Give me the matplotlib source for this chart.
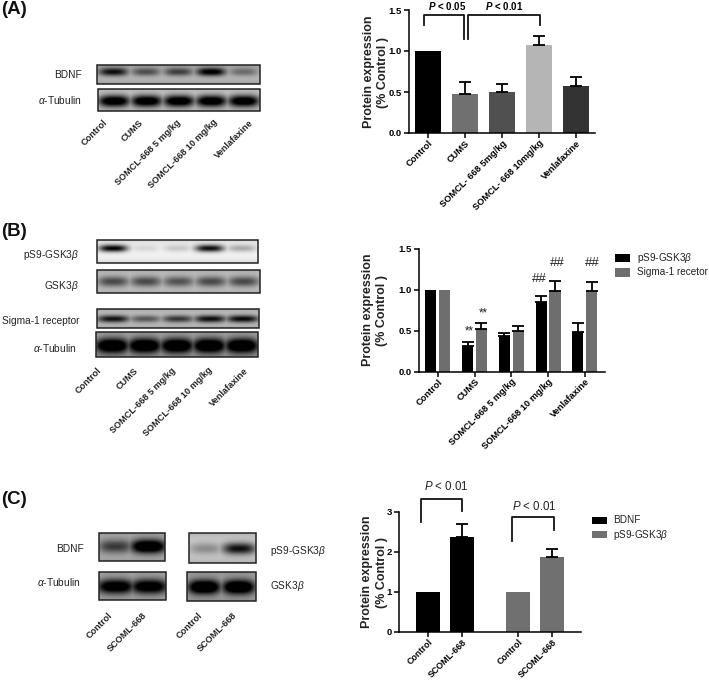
import numpy as np
import matplotlib

matplotlib.use("Agg")
import matplotlib.pyplot as plt
from matplotlib.patches import Rectangle

plt.rcParams["font.family"] = "Liberation Sans"
plt.rcParams["mathtext.fontset"] = "custom"
plt.rcParams["mathtext.it"] = "Liberation Sans:italic"
plt.rcParams["mathtext.rm"] = "Liberation Sans"
plt.rcParams["mathtext.bf"] = "Liberation Sans:bold"
plt.rcParams["mathtext.bfit"] = "Liberation Sans:italic:bold"

W, H = 709, 680

# panel A
a_labels = ["Control", "CUMS", "SOMCL- 668 5mg/kg", "SOMCL- 668 10mg/kg", "Venlafaxine"]
a_values = [1.0, 0.47, 0.50, 1.07, 0.57]
a_errors = [0.0, 0.15, 0.10, 0.11, 0.11]
a_colors = ["#000000", "#707070", "#505050", "#b5b5b5", "#333333"]

# panel B
b_labels = ["Control", "CUMS", "SOMCL-668 5 mg/kg", "SOMCL-668 10 mg/kg", "Venlafaxine"]
b_ps9 = [1.0, 0.32, 0.44, 0.85, 0.49]
b_ps9_err = [0.0, 0.04, 0.03, 0.08, 0.10]
b_sigma = [1.0, 0.52, 0.50, 0.99, 0.99]
b_sigma_err = [0.0, 0.07, 0.06, 0.12, 0.11]

# panel C
c_labels = ["Control", "SCOML-668", "Control", "SCOML-668"]
c_bdnf = [1.0, 2.37]
c_bdnf_err = [0.0, 0.32]
c_ps9 = [1.0, 1.87]
c_ps9_err = [0.0, 0.21]

# western blot band strengths, one per lane
blot_a_bdnf = [0.68, 0.42, 0.48, 0.78, 0.30]
blot_a_tub = [1.0, 1.0, 1.0, 1.0, 1.0]
blot_b_ps9 = [0.95, 0.10, 0.16, 0.90, 0.28]
blot_b_gsk = [0.50, 0.50, 0.46, 0.50, 0.50]
blot_b_sigma = [0.70, 0.42, 0.55, 0.72, 0.74]
blot_b_tub = [1.0, 1.0, 1.0, 1.0, 1.0]
blot_c_bdnf = [0.50, 1.0]
blot_c_tub = [0.90, 0.90]
blot_c_ps9 = [0.25, 0.75]
blot_c_gsk = [1.0, 1.0]


def px_axes(left, right, top, bottom):
    return fig.add_axes([left / W, 1 - bottom / H, (right - left) / W, (bottom - top) / H])


def style_axes(ax, yticks, fmt):
    for s in ["top", "right"]:
        ax.spines[s].set_visible(False)
    for s in ["left", "bottom"]:
        ax.spines[s].set_linewidth(1.1)
    ax.set_yticks(yticks)
    ax.set_yticklabels([fmt.format(t) for t in yticks], fontsize=6.8, fontweight="bold")
    ax.tick_params(width=1.1, length=3.5, pad=1.5)
    ax.tick_params(axis="x", pad=0.5)
    ax.patch.set_alpha(0)


def up_errors(ax, x, values, errors):
    keep = [i for i in range(len(errors)) if errors[i] > 0]
    ax.errorbar(
        [x[i] for i in keep],
        [values[i] for i in keep],
        yerr=[[0] * len(keep), [errors[i] for i in keep]],
        fmt="none",
        ecolor="black",
        elinewidth=1.3,
        capsize=4.2,
        capthick=1.3,
    )


def bracket(ax, x0, x1, y0, top, y1):
    ax.plot([x0, x0, x1, x1], [y0, top, top, y1], color="#111111", lw=1.3, clip_on=False)


def blot(box, strengths, bg, y_frac, thick, lane_w=0.45):
    left, right, top, bottom = box
    nx, ny = int((right - left) * 3), int((bottom - top) * 3)
    xx, yy = np.meshgrid(np.linspace(0, 1, nx), np.linspace(0, 1, ny))
    dark = np.zeros_like(xx)
    n = len(strengths)
    for i, s in enumerate(strengths):
        cx = (i + 0.5) / n
        dx = (xx - cx) * n / lane_w
        dy = (yy - y_frac) / thick
        dark = np.maximum(dark, s * np.exp(-(np.abs(dx) ** 3)) * np.exp(-(dy**2)))
    edge = 0.10 * (np.abs(yy - 0.5) * 2) ** 3
    img = np.clip(bg - edge - dark, 0, 1)
    over.imshow(img, cmap="gray", vmin=0, vmax=1, extent=(left, right, bottom, top), aspect="auto", zorder=1)
    over.add_patch(Rectangle((left, top), right - left, bottom - top, fill=False, ec="#222222", lw=1.1, zorder=2))


fig = plt.figure(figsize=(W / 100, H / 100), dpi=100)

# full figure layer in pixel coordinates for blots and free text
over = fig.add_axes([0, 0, 1, 1])
over.axis("off")

blot((97, 260, 65, 84), blot_a_bdnf, 0.72, 0.36, 0.22)
blot((98, 260, 89, 111), blot_a_tub, 0.82, 0.55, 0.28, 0.50)
blot((97, 258, 240, 263), blot_b_ps9, 0.95, 0.36, 0.16)
blot((97, 260, 270, 293), blot_b_gsk, 0.78, 0.50, 0.24, 0.50)
blot((97, 259, 309, 328), blot_b_sigma, 0.76, 0.52, 0.20, 0.50)
blot((96, 258, 332, 357), blot_b_tub, 0.72, 0.55, 0.32, 0.54)
blot((99, 165, 533, 561), blot_c_bdnf, 0.72, 0.48, 0.26, 0.55)
blot((99, 166, 572, 600), blot_c_tub, 0.72, 0.52, 0.28, 0.58)
blot((189, 256, 533, 563), blot_c_ps9, 0.80, 0.52, 0.20, 0.50)
blot((187, 256, 572, 601), blot_c_gsk, 0.68, 0.52, 0.26, 0.48)

over.set_xlim(0, W)
over.set_ylim(H, 0)

for label, y in [("(A)", 10), ("(B)", 232), ("(C)", 500)]:
    over.text(1, y, label, fontsize=13.5, fontweight="bold", va="center", color="#111111")

# blot row names
alpha_tub = r"$\alpha$-Tubulin"
gsk = r"GSK3$\beta$"
ps9 = r"pS9-GSK3$\beta$"
row_names = [
    ("BDNF", 82, 75, "right"),
    (alpha_tub, 82, 100, "right"),
    (ps9, 79, 255, "right"),
    (gsk, 79, 286, "right"),
    ("Sigma-1 receptor", 79, 321, "right"),
    (alpha_tub, 77, 348, "right"),
    ("BDNF", 84, 549, "right"),
    (alpha_tub, 81, 582, "right"),
    (ps9, 270, 551, "left"),
    (gsk, 270, 586, "left"),
]
for name, x, y, ha in row_names:
    over.text(x, y, name, fontsize=7.3, ha=ha, va="center", color="#222222")

# lane names under blots
lane_names = [
    (b_labels, [106, 142, 179, 216, 252], 121),
    (b_labels, [100, 137, 174, 211, 247], 369),
    (c_labels, [111, 145, 201, 235], 614),
]
for names, xs, y in lane_names:
    for name, x in zip(names, xs):
        over.text(x, y, name, fontsize=6.6, fontweight="bold", rotation=45, ha="right", va="center",
                  rotation_mode="anchor", color="#222222")

# y axis titles
for x, y in [(376, 72), (375, 310), (374.5, 572)]:
    over.text(x, y, "Protein expression\n(% Control )", fontsize=9, fontweight="bold", rotation=90,
              ha="center", va="center", multialignment="center", linespacing=1.25, color="#222222")

# panel A chart
ax = px_axes(408.7, 595, 10, 133)
x = np.arange(5)
ax.bar(x, a_values, width=0.70, color=a_colors)
up_errors(ax, x, a_values, a_errors)
ax.set_xlim(-0.52, 4.51)
ax.set_ylim(0, 1.5)
style_axes(ax, [0.0, 0.5, 1.0, 1.5], "{:.1f}")
ax.set_xticks(x)
ax.set_xticklabels(a_labels, rotation=45, ha="right", rotation_mode="anchor", fontsize=6.7, fontweight="bold")
bracket(ax, -0.11, 0.97, 1.32, 1.44, 1.15)
bracket(ax, 1.08, 3.03, 1.15, 1.44, 1.32)
over.text(447, 5.5, r"$\mathbfit{P}$ < 0.05", fontsize=7, fontweight="bold", ha="center", va="center")
over.text(504, 5.5, r"$\mathbfit{P}$ < 0.01", fontsize=7, fontweight="bold", ha="center", va="center")

# panel B chart
ax = px_axes(419, 605, 249, 371.7)
x = np.arange(5)
ax.bar(x - 0.19, b_ps9, width=0.30, color="#000000")
ax.bar(x + 0.19, b_sigma, width=0.30, color="#6e6e6e")
up_errors(ax, x - 0.19, b_ps9, b_ps9_err)
up_errors(ax, x + 0.19, b_sigma, b_sigma_err)
ax.set_xlim(-0.51, 4.55)
ax.set_ylim(0, 1.5)
style_axes(ax, [0.0, 0.5, 1.0, 1.5], "{:.1f}")
ax.set_xticks(x)
ax.set_xticklabels(b_labels, rotation=45, ha="right", rotation_mode="anchor", fontsize=6.7, fontweight="bold")
for mark, tx, ty, size in [("**", 469, 331, 8.3), ("**", 483, 313, 8.3), ("##", 539, 279, 9.5),
                           ("##", 557, 263, 9.5), ("##", 592, 263, 9.5)]:
    over.text(tx, ty, mark, fontsize=size, ha="center", va="center", color="#222222")

# panel C chart
ax = px_axes(399, 580.7, 511.7, 631.7)
x1 = np.array([0.0, 1.0])
x2 = np.array([2.66, 3.67])
ax.bar(x1, c_bdnf, width=0.71, color="#000000")
ax.bar(x2, c_ps9, width=0.71, color="#707070")
up_errors(ax, x1, c_bdnf, c_bdnf_err)
up_errors(ax, x2, c_ps9, c_ps9_err)
ax.set_xlim(-0.87, 4.52)
ax.set_ylim(0, 3)
style_axes(ax, [0, 1, 2, 3], "{:d}")
ax.set_xticks(list(x1) + list(x2))
ax.set_xticklabels(c_labels, rotation=45, ha="right", rotation_mode="anchor", fontsize=6.4, fontweight="bold")
bracket(ax, -0.22, 1.0, 2.74, 3.32, 3.02)
bracket(ax, 2.48, 3.74, 2.26, 2.86, 2.54)
over.text(446, 486, r"$\mathit{P}$ < 0.01", fontsize=8.3, ha="center", va="center", color="#222222")
over.text(534, 506, r"$\mathit{P}$ < 0.01", fontsize=8.3, ha="center", va="center", color="#222222")

# legends
legends = [
    (615, 630, [("#000000", 254, 262, 258, ps9), ("#6e6e6e", 268, 277, 272, "Sigma-1 recetor")], 637),
    (592, 607, [("#000000", 517, 523.5, 520, "BDNF"), ("#707070", 531, 538, 534.5, ps9)], 613),
]
for left, right, rows, tx in legends:
    for color, top, bottom, ty, name in rows:
        over.add_patch(Rectangle((left, top), right - left, bottom - top, fc=color, ec="none"))
        over.text(tx, ty, name, fontsize=7.2, va="center", color="#222222")

fig.savefig("out.png", dpi=100)
